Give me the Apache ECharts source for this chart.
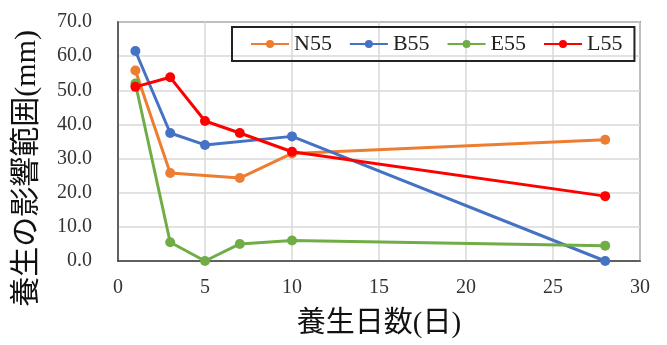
<!DOCTYPE html>
<html><head><meta charset="utf-8">
<script src="https://cdn.jsdelivr.net/npm/echarts@6/dist/echarts.min.js"></script>
<style>html,body{margin:0;padding:0;background:#fff}#c{width:667px;height:345px}</style>
</head><body><div id="c"></div>
<script>
const seriesNames = ['N55', 'B55', 'E55', 'L55'];
const colors = ['#ED7D31', '#4472C4', '#70AD47', '#FF0000'];
const n55Days = [1, 3, 7, 10, 28];
const n55Vals = [55.8, 25.8, 24.3, 31.5, 35.5];
const b55Days = [1, 3, 5, 10, 28];
const b55Vals = [61.5, 37.5, 34.0, 36.5, 0.0];
const e55Days = [1, 3, 5, 7, 10, 28];
const e55Vals = [52.0, 5.5, 0.0, 5.0, 6.0, 4.5];
const l55Days = [1, 3, 5, 7, 10, 28];
const l55Vals = [51.0, 53.8, 41.0, 37.5, 32.0, 19.0];
const xTitle = '養生日数(日)';
const yTitle = '養生の影響範囲(mm)';

const allDays = [n55Days, b55Days, e55Days, l55Days];
const allVals = [n55Vals, b55Vals, e55Vals, l55Vals];
const serif = '"Liberation Serif", "Times New Roman", serif';
const mixed = '"Liberation Serif", "Noto Sans CJK JP", serif';

const chart = echarts.init(document.getElementById('c'), null, {renderer: 'canvas'});
chart.setOption({
  animation: false,
  color: colors,
  grid: {left: 118, right: 27, top: 22, bottom: 84, show: true, borderColor: '#404040', borderWidth: 1.5, containLabel: false},
  legend: {
    left: 232, top: 27,
    padding: [6, 12, 6, 18],
    itemGap: 17, itemWidth: 38, itemHeight: 10,
    borderColor: '#222', borderWidth: 2,
    textStyle: {fontFamily: serif, fontSize: 22, color: '#222'},
    data: seriesNames
  },
  xAxis: {
    type: 'value', min: 0, max: 30, interval: 5,
    name: xTitle, nameLocation: 'middle', nameGap: 49,
    nameTextStyle: {fontFamily: mixed, fontSize: 29, color: '#111'},
    axisLine: {show: true, onZero: false, lineStyle: {color: '#404040', width: 1.5}},
    axisTick: {show: false},
    axisLabel: {fontFamily: serif, fontSize: 20, color: '#333', margin: 17},
    splitLine: {show: true, lineStyle: {color: '#d9d9d9', width: 1.5}}
  },
  yAxis: {
    type: 'value', min: 0, max: 70, interval: 10,
    axisLine: {show: true, lineStyle: {color: '#404040', width: 1.5}},
    axisTick: {show: false},
    axisLabel: {fontFamily: serif, fontSize: 20, color: '#333', margin: 26, formatter: v => v.toFixed(1)},
    splitLine: {show: true, lineStyle: {color: '#d9d9d9', width: 1.5}}
  },
  graphic: [{
    type: 'text', left: 12, top: 30, rotation: Math.PI / 2,
    style: {text: yTitle, font: '30px "Liberation Serif", "Noto Sans CJK JP", serif', fill: '#111'}
  }],
  series: seriesNames.map((n, i) => ({
    name: n, type: 'line',
    data: allDays[i].map((d, j) => [d, allVals[i][j]]),
    symbol: 'circle', symbolSize: 10,
    lineStyle: {width: 3},
    itemStyle: {color: colors[i]},
    z: i === 3 ? 5 : 2
  }))
});
</script></body></html>
